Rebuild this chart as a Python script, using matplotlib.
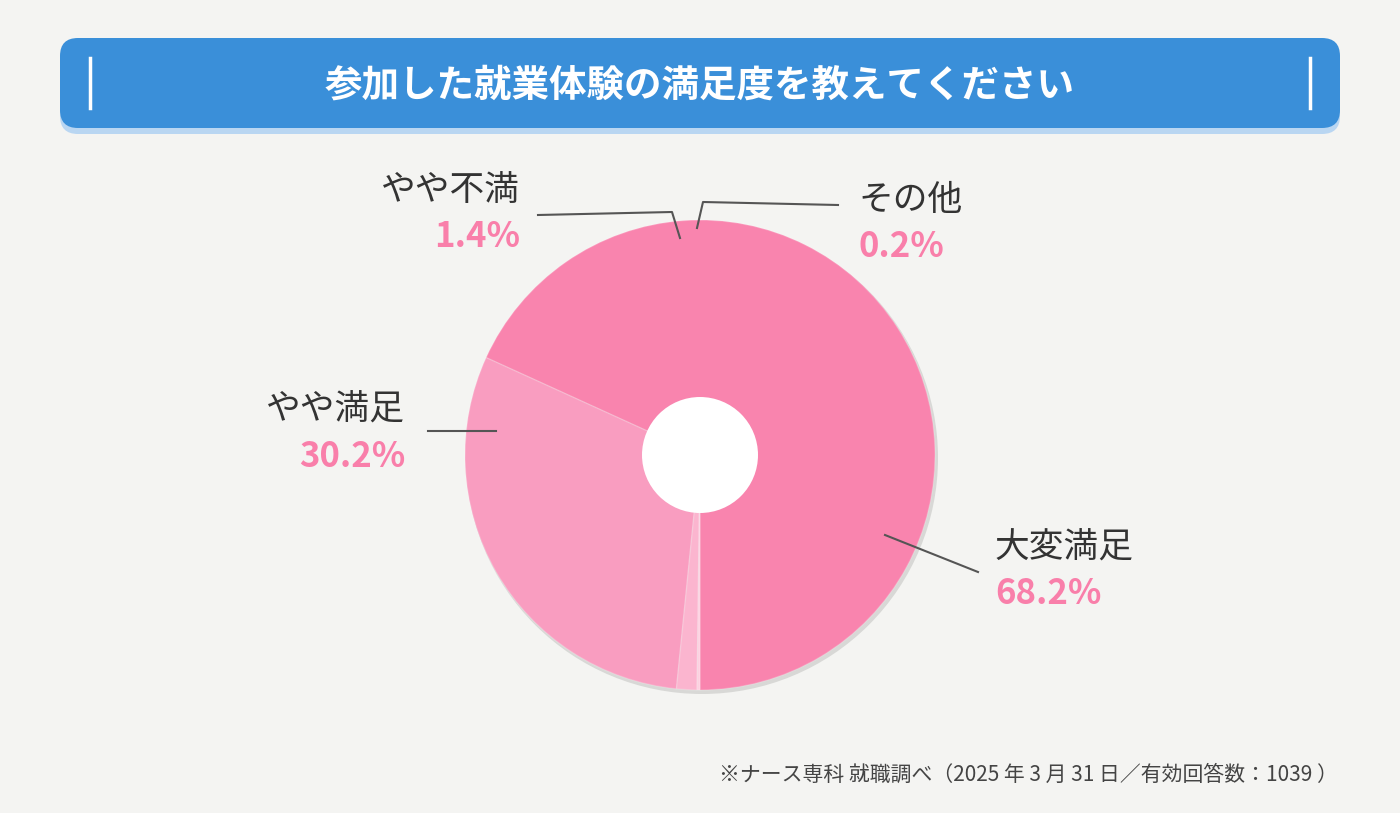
import matplotlib.pyplot as plt
from matplotlib.patches import FancyBboxPatch, Circle

plt.rcParams['font.family'] = 'Noto Sans CJK JP'

labels = ['大変満足', 'やや満足', 'やや不満', 'その他']
values = [68.2, 30.2, 1.4, 0.2]
colors = ['#F984AE', '#F99DC0', '#FBB5CF', '#FDD0E0']
title = '参加した就業体験の満足度を教えてください'
note = '※ナース専科 就職調べ（2025 年 3 月 31 日／有効回答数：1039 ）'

# label placement: text x, label y, align, leader line points
label_pos = [
    (995, 548, 'left', [(885, 535), (978, 572)]),
    (405, 410, 'right', [(428, 431), (496, 431)]),
    (520, 190, 'right', [(538, 215), (672, 212), (680, 238)]),
    (858, 200, 'left', [(838, 205), (703, 202), (697, 228)]),
]

bg = '#F4F4F2'
fig = plt.figure(figsize=(14, 8.13), dpi=100, facecolor=bg)
ax = fig.add_axes([0, 0, 1, 1])
ax.set_xlim(0, 1400)
ax.set_ylim(813, 0)
ax.set_aspect('equal')
ax.axis('off')

# title bar
ax.add_patch(FancyBboxPatch((60, 44), 1280, 90, boxstyle='round,pad=0,rounding_size=18',
                            fc='#B9D6F2', ec='none'))
ax.add_patch(FancyBboxPatch((60, 38), 1280, 90, boxstyle='round,pad=0,rounding_size=18',
                            fc='#3A8FD9', ec='none'))
for x in (90, 1310):
    ax.plot([x, x], [58, 108], color='white', lw=2.5)
ax.text(700, 85, title, color='white', fontsize=27, fontweight='bold',
        ha='center', va='center')

# donut
cx, cy, r = 700, 455, 235
ax.add_patch(Circle((cx + 2, cy + 3), r + 1, fc='#D8D8D6', ec='none', zorder=1))
ax.pie(values, colors=colors, startangle=90, counterclock=False,
       center=(cx, cy), radius=r, frame=True,
       wedgeprops=dict(linewidth=1, edgecolor='#FFFFFF30'))
ax.set_xlim(0, 1400)
ax.set_ylim(813, 0)
ax.axis('off')
ax.add_patch(Circle((cx, cy), 58, fc='white', ec='none', zorder=5))

for (lab, val), (tx, ty, ha, pts) in zip(zip(labels, values), label_pos):
    xs, ys = zip(*pts)
    ax.plot(xs, ys, color='#555555', lw=1.5, zorder=6)
    ax.text(tx, ty, lab, fontsize=25, color='#333333', ha=ha, va='center')
    ax.text(tx, ty + 46, f'{val}%', fontsize=25, color='#F97FAA',
            fontweight='bold', ha=ha, va='center')

ax.text(1338, 775, note, fontsize=15, color='#444444', ha='right', va='center')

fig.savefig('out.png', dpi=100, facecolor=bg)
